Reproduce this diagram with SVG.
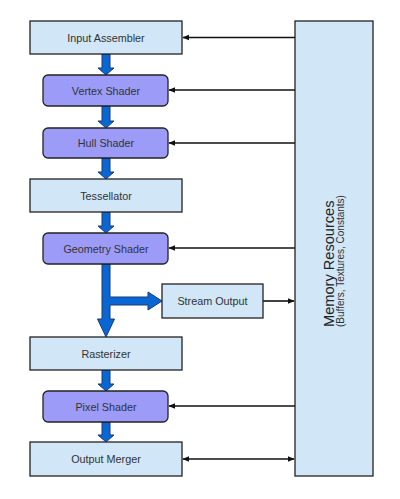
<svg xmlns="http://www.w3.org/2000/svg" width="400" height="499" viewBox="0 0 400 499">
<defs>
<marker id="ah" viewBox="0 0 10 10" refX="9" refY="5" markerWidth="7" markerHeight="7" markerUnits="userSpaceOnUse" orient="auto-start-reverse">
<path d="M0,1 L10,5 L0,9 Z" fill="#111"/>
</marker>
<style>
.lt{fill:#d1e6f6;stroke:#222;stroke-width:1.3}
.pu{fill:#9c9cf8;stroke:#222;stroke-width:1.3}
.lbl{font-family:"Liberation Sans",Arial,sans-serif;font-size:10.8px;fill:#333;text-anchor:middle}
.ln{stroke:#111;stroke-width:1.6;fill:none}
.fat{fill:#0a66d2;stroke:#1b3a72;stroke-width:1}
</style>
</defs>
<rect width="400" height="499" fill="#fff"/>
<g id="connectors">
<path class="fat" d="M102,54 V68 H98 L106,75 L114,68 H110 V54 Z"/>
<path class="fat" d="M102,106 V121 H98 L106,128 L114,121 H110 V106 Z"/>
<path class="fat" d="M102,158 V172 H98 L106,179 L114,172 H110 V158 Z"/>
<path class="fat" d="M102,212 V226 H98 L106,233 L114,226 H110 V212 Z"/>
<path class="fat" d="M102,264 V319 H97.5 L106,337 L114.5,319 H110 V305 H148 V310 L162,301 L148,292 V297 H110 V264 Z"/>
<path class="fat" d="M102,370 V384 H98 L106,391 L114,384 H110 V370 Z"/>
<path class="fat" d="M102,422 V435 H98 L106,442 L114,435 H110 V422 Z"/>
<line class="ln" x1="295" y1="37.5" x2="183" y2="37.5" marker-end="url(#ah)"/>
<line class="ln" x1="295" y1="90" x2="169" y2="90" marker-end="url(#ah)"/>
<line class="ln" x1="295" y1="143" x2="169" y2="143" marker-end="url(#ah)"/>
<line class="ln" x1="295" y1="248" x2="169" y2="248" marker-end="url(#ah)"/>
<line class="ln" x1="263" y1="301" x2="294" y2="301" marker-end="url(#ah)"/>
<line class="ln" x1="295" y1="406" x2="169" y2="406" marker-end="url(#ah)"/>
<line class="ln" x1="183" y1="459" x2="294" y2="459" marker-start="url(#ah)" marker-end="url(#ah)"/>
</g>
<g id="input-assembler">
<rect class="lt" x="30" y="21" width="152" height="33"/>
<text class="lbl" x="106" y="41.5">Input Assembler</text>
</g>
<g id="vertex-shader">
<rect class="pu" x="43" y="75" width="125" height="31" rx="5"/>
<text class="lbl" x="106" y="94.5">Vertex Shader</text>
</g>
<g id="hull-shader">
<rect class="pu" x="43" y="128" width="125" height="30" rx="5"/>
<text class="lbl" x="106" y="147">Hull Shader</text>
</g>
<g id="tessellator">
<rect class="lt" x="30" y="179" width="152" height="33"/>
<text class="lbl" x="106" y="199.5">Tessellator</text>
</g>
<g id="geometry-shader">
<rect class="pu" x="43" y="233" width="125" height="31" rx="5"/>
<text class="lbl" x="106" y="252.5">Geometry Shader</text>
</g>
<g id="stream-output">
<rect class="lt" x="162" y="284" width="101" height="34"/>
<text class="lbl" x="212.5" y="305">Stream Output</text>
</g>
<g id="rasterizer">
<rect class="lt" x="30" y="337" width="152" height="33"/>
<text class="lbl" x="106" y="357.5">Rasterizer</text>
</g>
<g id="pixel-shader">
<rect class="pu" x="43" y="391" width="125" height="31" rx="5"/>
<text class="lbl" x="106" y="410.5">Pixel Shader</text>
</g>
<g id="output-merger">
<rect class="lt" x="30" y="442" width="152" height="34"/>
<text class="lbl" x="106" y="463">Output Merger</text>
</g>
<g id="memory-resources">
<rect class="lt" x="295" y="21" width="78" height="455"/>
<text transform="translate(333.5,327) rotate(-90)" font-family="Liberation Sans,Arial,sans-serif" font-size="14.6" fill="#222">Memory Resources</text>
<text transform="translate(343.5,327) rotate(-90)" font-family="Liberation Sans,Arial,sans-serif" font-size="10" fill="#333">(Buffers, Textures, Constants)</text>
</g>
</svg>
